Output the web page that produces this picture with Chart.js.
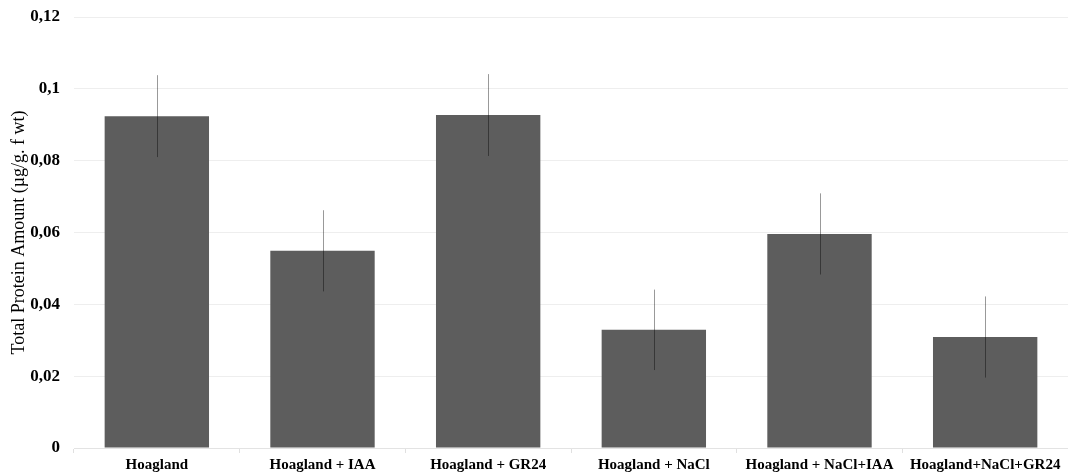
<!DOCTYPE html>
<html>
<head>
<meta charset="utf-8">
<script src="https://cdn.jsdelivr.net/npm/chart.js@4/dist/chart.umd.min.js"></script>
<style>
  html, body { margin: 0; padding: 0; background: #fff; }
  #wrap { width: 1068px; height: 476px; }
</style>
</head>
<body>
<div id="wrap"><canvas id="grafico"></canvas></div>
<script>
// dati
var trattamenti = ['Hoagland', 'Hoagland + IAA', 'Hoagland + GR24', 'Hoagland + NaCl', 'Hoagland + NaCl+IAA', 'Hoagland+NaCl+GR24'];
var proteine = [0.0924, 0.0549, 0.0927, 0.0329, 0.0596, 0.0309];
var errori = [0.0114, 0.0113, 0.0114, 0.0112, 0.0113, 0.0113];
var tickY = [0, 0.02, 0.04, 0.06, 0.08, 0.1, 0.12];

// barre di errore disegnate sopra le barre
var erroriPlugin = {
  id: 'errori',
  afterDatasetsDraw: function(chart) {
    var ctx = chart.ctx;
    var meta = chart.getDatasetMeta(0);
    var y = chart.scales.y;
    ctx.save();
    ctx.strokeStyle = 'rgba(0,0,0,0.4)';
    ctx.lineWidth = 1;
    meta.data.forEach(function(bar, i) {
      var x = Math.round(bar.x) + 0.5;
      ctx.beginPath();
      ctx.moveTo(x, y.getPixelForValue(proteine[i] + errori[i]));
      ctx.lineTo(x, y.getPixelForValue(proteine[i] - errori[i]));
      ctx.stroke();
    });
    ctx.restore();
  }
};

var chart = new Chart(document.getElementById('grafico'), {
  type: 'bar',
  data: {
    labels: trattamenti,
    datasets: [{
      data: proteine,
      backgroundColor: '#5d5d5d',
      borderWidth: 0,
      categoryPercentage: 1,
      barPercentage: 0.63
    }]
  },
  plugins: [erroriPlugin],
  options: {
    responsive: true,
    maintainAspectRatio: false,
    animation: false,
    layout: { padding: { top: 17, right: 0, left: 0, bottom: 0 } },
    plugins: {
      legend: { display: false },
      tooltip: { enabled: false }
    },
    scales: {
      x: {
        afterFit: function(scale) {
          scale.height = 28;
          scale.paddingLeft = 0;
          scale.paddingRight = 0;
        },
        grid: {
          offset: true,
          drawOnChartArea: false,
          color: '#e0e0e0',
          tickLength: 5
        },
        border: { color: '#e3e3e3' },
        ticks: {
          color: '#000',
          padding: 3,
          maxRotation: 0,
          autoSkip: false,
          font: { family: "'Liberation Serif', 'Times New Roman', serif", size: 15, weight: 'bold' }
        }
      },
      y: {
        min: 0,
        max: 0.12,
        afterFit: function(scale) {
          scale.width = 74;
          scale.paddingTop = 0;
          scale.paddingBottom = 0;
        },
        afterBuildTicks: function(scale) {
          scale.ticks = tickY.map(function(v) { return { value: v }; });
        },
        grid: { color: '#eeeeee', drawTicks: false },
        border: { display: false },
        ticks: {
          color: '#000',
          padding: 14,
          font: { family: "'Liberation Serif', 'Times New Roman', serif", size: 17, weight: 'bold' },
          callback: function(v) { return String(v).replace('.', ','); }
        },
        title: {
          display: true,
          text: 'Total Protein Amount (µg/g. f wt)',
          color: '#000',
          padding: { top: 8, bottom: 0 },
          font: { family: "'Liberation Serif', 'Times New Roman', serif", size: 18 }
        }
      }
    }
  }
});
</script>
</body>
</html>
